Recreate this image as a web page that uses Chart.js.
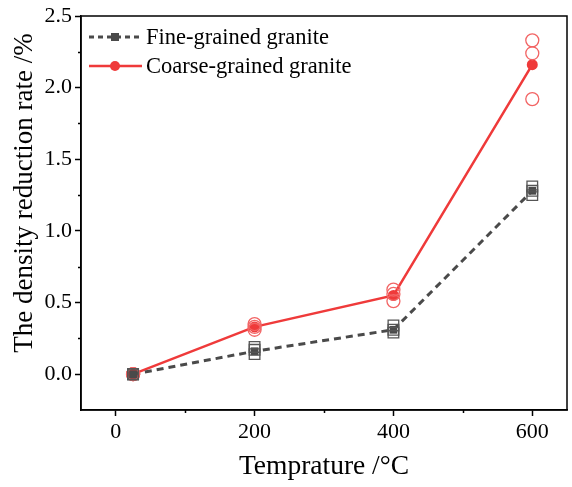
<!DOCTYPE html>
<html>
<head>
<meta charset="utf-8">
<script src="https://cdn.jsdelivr.net/npm/chart.js@4.4.1/dist/chart.umd.min.js"></script>
<style>
  html, body { margin: 0; padding: 0; background: #fff; overflow: hidden; }
  #wrap { width: 572px; height: 487px; }
</style>
</head>
<body>
<div id="wrap"><canvas id="chart"></canvas></div>
<script>
// Temperaturas y valores medios
const temperatures = [25, 200, 400, 600];
const fineMean = [0, 0.16, 0.31, 1.28];
const coarseMean = [0, 0.33, 0.55, 2.16];

// Muestras individuales (3 por temperatura)
const fineSamples = [
    [0, 0, 0],
    [0.19, 0.17, 0.14],
    [0.34, 0.31, 0.29],
    [1.31, 1.28, 1.25]
];
const coarseSamples = [
    [0, 0, 0],
    [0.35, 0.33, 0.31],
    [0.59, 0.56, 0.51],
    [2.33, 2.24, 1.92]
];

const yTicks = [0, 0.5, 1.0, 1.5, 2.0, 2.5];
const xTicks = [0, 200, 400, 600];

const FONT = "'Liberation Serif', 'Times New Roman', serif";
const GRAY = '#4a4a4a';
const RED = '#ef3a3a';

const toPoints = (xs, ys) => xs.map((x, i) => ({ x: x, y: ys[i] }));
const samplePoints = (samples) => {
    const pts = [];
    samples.forEach((row, i) => row.forEach(v => pts.push({ x: temperatures[i], y: v })));
    return pts;
};

// Marco completo, marcas menores y título del eje Y
const framePlugin = {
    id: 'frame',
    afterDraw(chart) {
        const { ctx, chartArea: a, scales } = chart;
        ctx.save();
        ctx.strokeStyle = '#000';
        ctx.lineWidth = 1.5;
        ctx.strokeRect(a.left, a.top, a.right - a.left, a.bottom - a.top);
        ctx.beginPath();
        for (let v = 0.25; v < 2.5; v += 0.5) {
            const y = Math.round(scales.y.getPixelForValue(v)) + 0.5;
            ctx.moveTo(a.left, y);
            ctx.lineTo(a.left - 3, y);
        }
        for (let v = 100; v < 650; v += 200) {
            const x = Math.round(scales.x.getPixelForValue(v)) + 0.5;
            ctx.moveTo(x, a.bottom);
            ctx.lineTo(x, a.bottom + 3);
        }
        ctx.stroke();

        ctx.translate(25, 193);
        ctx.rotate(-Math.PI / 2);
        ctx.fillStyle = '#000';
        ctx.font = '27px ' + FONT;
        ctx.textAlign = 'center';
        ctx.textBaseline = 'middle';
        ctx.fillText('The density reduction rate /%', 0, 0);
        ctx.restore();
    }
};

// Leyenda con línea + marcador
const legendPlugin = {
    id: 'customLegend',
    afterDraw(chart) {
        const { ctx } = chart;
        const items = [
            { label: 'Fine-grained granite', color: GRAY, dash: [5, 4], marker: 'rect' },
            { label: 'Coarse-grained granite', color: RED, dash: [], marker: 'circle' }
        ];
        ctx.save();
        items.forEach((it, i) => {
            const y = 37 + i * 29;
            ctx.strokeStyle = it.color;
            ctx.lineWidth = it.dash.length ? 3 : 2.5;
            ctx.setLineDash(it.dash);
            ctx.beginPath();
            ctx.moveTo(89, y);
            ctx.lineTo(142, y);
            ctx.stroke();
            ctx.setLineDash([]);
            ctx.fillStyle = it.color;
            if (it.marker === 'rect') {
                ctx.fillRect(111, y - 4, 8, 8);
            } else {
                ctx.beginPath();
                ctx.arc(115, y, 5, 0, Math.PI * 2);
                ctx.fill();
            }
            ctx.fillStyle = '#000';
            ctx.font = '22.5px ' + FONT;
            ctx.textBaseline = 'middle';
            ctx.fillText(it.label, 146, y + 1);
        });
        ctx.restore();
    }
};

new Chart(document.getElementById('chart'), {
    type: 'scatter',
    data: {
        datasets: [{
            label: 'Fine samples',
            data: samplePoints(fineSamples),
            pointStyle: 'rect',
            pointRadius: 7.5,
            pointBorderColor: '#555',
            pointBackgroundColor: 'rgba(255,255,255,0)',
            pointBorderWidth: 1.3,
            showLine: false,
        }, {
            label: 'Coarse samples',
            data: samplePoints(coarseSamples),
            pointStyle: 'circle',
            pointRadius: 6.5,
            pointBorderColor: '#f26464',
            pointBackgroundColor: 'rgba(255,255,255,0)',
            pointBorderWidth: 1.3,
            showLine: false,
        }, {
            label: 'Fine-grained granite',
            data: toPoints(temperatures, fineMean),
            showLine: true,
            borderColor: GRAY,
            borderWidth: 3,
            borderDash: [7, 5],
            pointStyle: 'rect',
            pointRadius: 5.5,
            pointBackgroundColor: GRAY,
            pointBorderColor: GRAY,
            pointBorderWidth: 0,
        }, {
            label: 'Coarse-grained granite',
            data: toPoints(temperatures, coarseMean),
            showLine: true,
            borderColor: RED,
            borderWidth: 2.5,
            pointStyle: 'circle',
            pointRadius: 5.5,
            pointBackgroundColor: RED,
            pointBorderColor: RED,
            pointBorderWidth: 0,
        }],
    },
    options: {
        responsive: true,
        maintainAspectRatio: false,
        animation: false,
        layout: { autoPadding: false, padding: { top: 16, right: 5, left: 0, bottom: 0 } },
        plugins: {
            legend: { display: false },
            tooltip: { enabled: false },
        },
        scales: {
            x: {
                type: 'linear',
                min: -50,
                max: 650,
                afterBuildTicks: (s) => { s.ticks = xTicks.map(v => ({ value: v })); },
                afterFit: (s) => { s.height = 77; s.paddingLeft = 0; s.paddingRight = 0; },
                grid: { drawOnChartArea: false, tickLength: 6, tickWidth: 1.5, tickColor: '#000' },
                border: { color: '#000', width: 1.5 },
                ticks: { color: '#000', font: { family: FONT, size: 22 }, padding: 3, maxRotation: 0 },
                title: { display: true, text: 'Temprature /°C', color: '#000', font: { family: FONT, size: 27.5 }, padding: { top: 3 } },
            },
            y: {
                min: -0.25,
                max: 2.5,
                afterBuildTicks: (s) => { s.ticks = yTicks.map(v => ({ value: v })); },
                afterFit: (s) => { s.width = 81; s.paddingTop = 0; s.paddingBottom = 0; },
                grid: { drawOnChartArea: false, tickLength: 6, tickWidth: 1.5, tickColor: '#000' },
                border: { color: '#000', width: 1.5 },
                ticks: { color: '#000', font: { family: FONT, size: 22 }, padding: 3, callback: v => v.toFixed(1) },
            },
        },
    },
    plugins: [framePlugin, legendPlugin],
});
</script>
</body>
</html>
